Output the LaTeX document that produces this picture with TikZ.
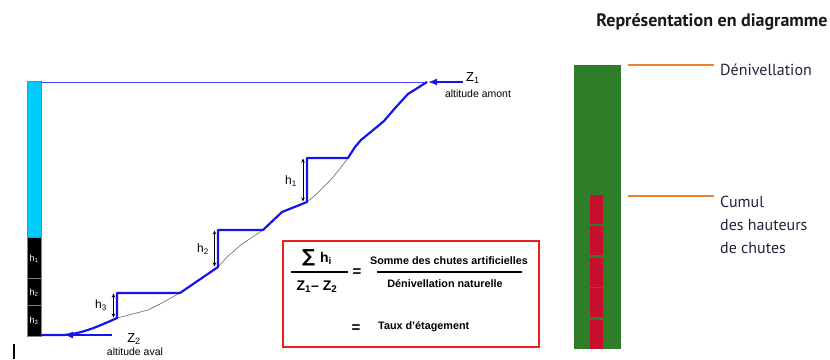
\documentclass[tikz,border=0pt]{standalone}
\usepackage{fontspec}
\setmainfont{Liberation Sans}
\newfontfamily\ptsans{PT Sans}
\newfontfamily\djv{DejaVu Sans}
\usetikzlibrary{arrows.meta}
\definecolor{cyanbar}{RGB}{0,204,255}
\definecolor{profblue}{RGB}{20,20,235}
\definecolor{thinblue}{RGB}{70,70,255}
\definecolor{greenbar}{RGB}{46,125,40}
\definecolor{redseg}{RGB}{200,16,46}
\definecolor{orangeline}{RGB}{240,130,40}
\definecolor{darktext}{RGB}{35,35,60}
\definecolor{boxred}{RGB}{235,30,30}
\definecolor{natgray}{RGB}{120,120,120}
\tikzset{
  profile/.style={profblue, line width=2.2, line join=round},
  natural/.style={natgray, line width=0.7},
  harrow/.style={black, line width=0.8, {Stealth[length=4,width=3.5]}-{Stealth[length=4,width=3.5]}},
  hlabel/.style={font=\fontsize{12}{12}\selectfont, inner sep=0},
  blocklabel/.style={white, font=\fontsize{9}{9}\selectfont, inner sep=0},
  ztip/.style={profblue, line width=1.6, -{Latex[length=9,width=7]}},
  formula/.style={font=\bfseries\fontsize{10.8}{10.8}\selectfont, inner sep=0},
  bigf/.style={font=\bfseries\fontsize{14}{14}\selectfont, inner sep=0},
  small/.style={font=\fontsize{10.5}{10.5}\selectfont, inner sep=0},
  rtext/.style={darktext, font=\ptsans\fontsize{16}{23}\selectfont, inner sep=0, anchor=north west, align=left},
  orange/.style={orangeline, line width=1.6}
}
\begin{document}
\begin{tikzpicture}[x=1pt,y=-1pt]
\useasboundingbox (0,0) rectangle (830,359);

% ---- left bar
\fill[cyanbar] (27,81) rectangle (41,237);
\fill[black] (27,237) rectangle (41,336);
\draw[gray, line width=0.6] (27,81) rectangle (41,336);
\draw[gray, line width=0.8] (27,237) -- (41,237) (27,278) -- (41,278) (27,305) -- (41,305);
\node[blocklabel] (b1) at (34,259) {h\textsubscript{1}};
\node[blocklabel] (b2) at (34,293) {h\textsubscript{2}};
\node[blocklabel] (b3) at (34,321) {h\textsubscript{3}};

% ---- profile
\coordinate (top) at (427,82);
\coordinate (s1t) at (348,158);
\coordinate (s1a) at (307,158);
\coordinate (s1b) at (307,202);
\coordinate (s2t) at (263,230);
\coordinate (s2a) at (218,230);
\coordinate (s2b) at (218,267);
\coordinate (s3t) at (180,293);
\coordinate (s3a) at (117,293);
\coordinate (s3b) at (117,318);
\coordinate (bot) at (41,335);

\draw[thinblue, line width=1] (41,82) -- (top);

\draw[natural] (s1t) .. controls (335,176) and (322,190) .. (s1b);
\draw[natural] (s2t) -- (242,244) -- (228,256) -- (s2b);
\draw[natural] (s3t) -- (160,304) -- (148,310) -- (s3b);

\draw[profile] (top) -- (408,94) -- (396,107) -- (384,121) -- (372,131) -- (361,140) -- (355,147) -- (s1t)
  -- (s1a) -- (s1b) -- (282,212) -- (s2t) -- (s2a) -- (s2b) -- (s3t) -- (s3a) -- (s3b)
  .. controls (95,328) and (80,334) .. (63,335) -- (bot);

% h arrows
\draw[harrow] (303,158.5) -- (303,201.5);
\node[hlabel] (h1) at (291,181) {h\textsubscript{1}};
\draw[harrow] (214.5,230.5) -- (214.5,266.5);
\node[hlabel] (h2) at (203,249) {h\textsubscript{2}};
\draw[harrow] (113.5,293.5) -- (113.5,317.5);
\node[hlabel] (h3) at (101,305) {h\textsubscript{3}};

% Z1 / Z2
\coordinate (z1s) at (463,82);
\draw[ztip] (z1s) -- (428,82);
\node[font=\fontsize{13}{13}\selectfont, inner sep=0, anchor=west] (z1) at (466,78) {Z\textsubscript{1}};
\node[small] (z1t) at (478,94) {altitude amont};

\coordinate (z2s) at (112,335);
\draw[ztip] (z2s) -- (64,335);
\node[font=\fontsize{13}{13}\selectfont, inner sep=0] (z2) at (134,339) {Z\textsubscript{2}};
\node[small] (z2t) at (135,352) {altitude aval};

% small tick
\draw[black, line width=2] (14,344) -- (14,359);

% ---- formula box
\draw[boxred, line width=1.3] (283,241) rectangle (539,347);
\node[bigf] (num) at (317,258) {{\djv\bfseries\fontsize{18}{18}\selectfont ∑}\hspace{5pt}h\textsubscript{i}};
\draw[black, line width=1.4] (291,272) -- (348,272);
\node[bigf] (den) at (317,287) {Z\textsubscript{1}– Z\textsubscript{2}};
\node[bigf, font=\bfseries\fontsize{15}{15}\selectfont] (eq1) at (357,273) {=};
\node[formula] (rnum) at (449,261) {Somme des chutes artificielles};
\draw[black, line width=1.4] (377,272) -- (522,272);
\node[formula] (rden) at (445,284) {Dénivellation naturelle};
\node[bigf, font=\bfseries\fontsize{15}{15}\selectfont] (eq2) at (356,329) {=};
\node[formula, anchor=west] (taux) at (378,327) {Taux d'étagement};

% ---- right diagram
\node[font=\ptsans\bfseries\fontsize{18}{18}\selectfont, inner sep=0, text=black!90] (title) at (712,22) {Représentation en diagramme};
\fill[greenbar] (574,65) rectangle (621,349);
\foreach \a/\b in {195/224, 226/255, 258/287, 288/317, 320/349}
  \fill[redseg] (590,\a) rectangle (603,\b);

\coordinate (o1) at (628,65);
\coordinate (o2) at (628,196);
\node[rtext] (deniv) at (720,64) {Dénivellation};
\node[rtext] (cumul) at (720,196) {Cumul\\des hauteurs\\de chutes};
\draw[orange] (o1) -- (714,65);
\draw[orange] (o2) -- (714,196);
\end{tikzpicture}
\end{document}
